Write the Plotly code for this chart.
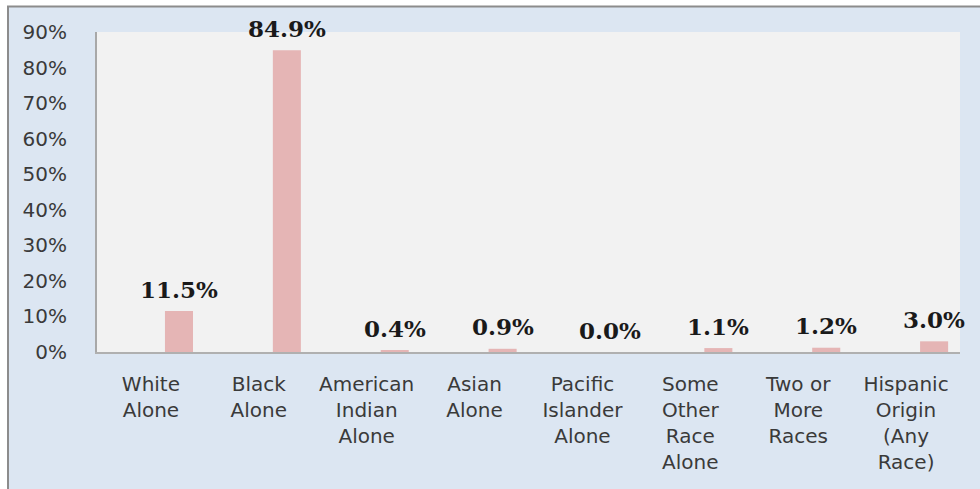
import plotly.graph_objects as go

categories = ["White<br>Alone", "Black<br>Alone", "American<br>Indian<br>Alone", "Asian<br>Alone",
              "Pacific<br>Islander<br>Alone", "Some<br>Other<br>Race<br>Alone", "Two or<br>More<br>Races",
              "Hispanic<br>Origin<br>(Any<br>Race)"]
values = [0.115, 0.849, 0.004, 0.009, 0.000, 0.011, 0.012, 0.030]
labels = ["11.5%", "84.9%", "0.4%", "0.9%", "0.0%", "1.1%", "1.2%", "3.0%"]
tick_vals = [0, 0.1, 0.2, 0.3, 0.4, 0.5, 0.6, 0.7, 0.8, 0.9]

BAR_OFFSET = 0.13
BAR_WIDTH = 0.26

fig = go.Figure()
fig.add_trace(go.Bar(
    x=list(range(len(categories))), y=values,
    offset=BAR_OFFSET, width=BAR_WIDTH,
    marker=dict(color="#e5b5b5", line=dict(width=0)),
    hoverinfo="skip",
))

for i, (v, t) in enumerate(zip(values, labels)):
    fig.add_annotation(
        x=i + BAR_OFFSET + BAR_WIDTH / 2, y=v, xref="x", yref="y",
        text=t, showarrow=False, yshift=22, yanchor="middle", xanchor="center",
        font=dict(family="DejaVu Serif", size=23, color="#1a1a1a", weight="bold"),
    )

# background panel with grey top/left border
L, R, T, B = 97, 20, 32, 137
pw, ph = 980 - L - R, 489 - T - B
fig.add_shape(type="rect", xref="paper", yref="paper",
              x0=(8 - L) / pw, x1=(990 - L) / pw,
              y0=-(500 - T - ph) / ph, y1=1 + (T - 6.5) / ph,
              fillcolor="#dce6f2", line=dict(color="#8c8c8c", width=2), layer="below")
# plot area fill
fig.add_shape(type="rect", xref="paper", yref="paper", x0=0, x1=1, y0=0, y1=1,
              fillcolor="#f2f2f2", line=dict(width=0), layer="below")

fig.update_layout(
    width=980, height=489,
    margin=dict(l=L, r=R, t=T, b=B),
    paper_bgcolor="white", plot_bgcolor="#f2f2f2",
    showlegend=False,
    font=dict(family="DejaVu Sans", color="#3a3a3a"),
)
fig.update_xaxes(
    tickmode="array", tickvals=list(range(len(categories))), ticktext=categories,
    range=[-0.5, len(categories) - 0.5],
    showgrid=False, zeroline=False,
    showline=True, linecolor="#b0b0b0", linewidth=2,
    ticks="", ticklabelstandoff=13,
    tickfont=dict(size=20, color="#3a3a3a"),
)
fig.update_yaxes(
    range=[0, 0.9], tickvals=tick_vals, tickformat=".0%",
    showgrid=False, zeroline=False,
    showline=True, linecolor="#a8a8a8", linewidth=2,
    ticks="", ticklabelstandoff=24,
    tickfont=dict(size=20, color="#3a3a3a"),
)

fig.write_html("out.html")
